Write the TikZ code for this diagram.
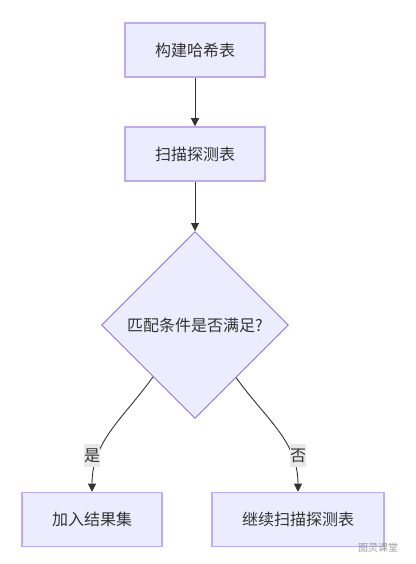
\documentclass[tikz,border=0pt]{standalone}
\usepackage{fontspec}
\usepackage{xcolor}
\usetikzlibrary{shapes.geometric,arrows.meta}
\newfontfamily\cjk{Noto Sans CJK SC}
\definecolor{nodefill}{RGB}{236,236,255}
\definecolor{nodeborder}{RGB}{147,112,219}
\definecolor{boxborder}{RGB}{190,172,238}
\definecolor{linegray}{RGB}{51,51,51}
\definecolor{lblfill}{RGB}{232,232,232}

\begin{document}
\begin{tikzpicture}[x=1pt,y=1pt,
    procbox/.style={draw=boxborder,line width=1.5pt,fill=nodefill,minimum width=140pt,
        minimum height=54pt,inner sep=0pt,font=\cjk\fontsize{16pt}{19pt}\selectfont,text=linegray},
    decbox/.style={diamond,aspect=1,draw=nodeborder,line width=0.9pt,fill=nodefill,
        minimum size=187pt,inner sep=0pt,font=\cjk\fontsize{16pt}{19pt}\selectfont,text=linegray},
    edgelbl/.style={fill=lblfill,minimum width=16pt,minimum height=23pt,inner sep=0pt,
        font=\cjk\fontsize{16pt}{19pt}\selectfont,text=linegray},
    flowarrow/.style={draw=linegray,line width=0.9pt,-{Triangle[length=8pt,width=8pt]}}]
				\useasboundingbox (0,0) rectangle (415,564);
				\node[procbox] (build) at (195,514) {构建哈希表};
				\node[procbox] (scan) at (195,410) {扫描探测表};
				\node[decbox] (match) at (195,239) {匹配条件是否满足?};
				\node[procbox] (addres) at (92,44.5) {加入结果集};
				\node[procbox,minimum width=172pt] (goon) at (298,44.5) {继续扫描探测表};
				\draw[flowarrow] (build) -- (scan);
				\draw[flowarrow] (scan) -- (match);
				\draw[flowarrow] (match.231.6) to[out=234.5,in=90] (addres.north);
				\draw[flowarrow] (match.308.4) to[out=305.5,in=90] (goon.north);
				\node[edgelbl] (yes) at (92,108.5) {是};
				\node[edgelbl] (no) at (298,108.5) {否};
				\node[font=\cjk\fontsize{10pt}{12pt}\selectfont,text=gray!80] (mark) at (378,16) {图灵课堂};
			\end{tikzpicture}
\end{document}
